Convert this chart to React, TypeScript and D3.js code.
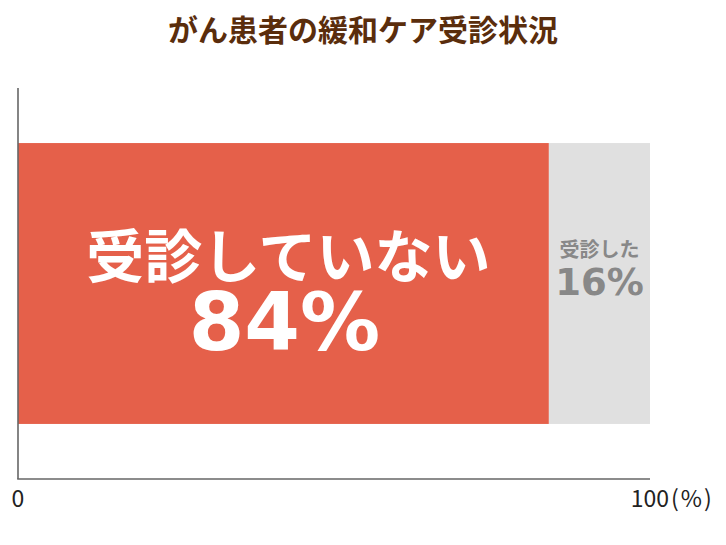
import React from 'react';
import * as d3 from 'd3';

const title = 'がん患者の緩和ケア受診状況';
const categories = ['受診していない', '受診した'];
const values = [84, 16];
const colors = ['#e5604a', '#e0e0e0'];
const tickValues = [0, 100];
const unitLabel = '(%)';

const W = 726;
const H = 545;
const margin = { top: 88, right: 76, bottom: 66, left: 18 };

export default function App() {
  const x = d3.scaleLinear().domain([0, 100]).range([margin.left, W - margin.right]);
  const y = d3.scaleBand().domain(['all']).range([margin.top, H - margin.bottom]).paddingInner(0).paddingOuter(0.196);

  // stack the two shares end to end
  const stacked = values.map((v, i) => {
    const start = d3.sum(values.slice(0, i));
    return { name: categories[i], value: v, x0: start, x1: start + v, color: colors[i] };
  });

  const jp = '"Noto Sans CJK JP", sans-serif';
  const latin = '"DejaVu Sans", "Noto Sans CJK JP", sans-serif';

  const big = stacked[0];
  const small = stacked[1];
  const bigCx = (x(big.x0) + x(big.x1)) / 2 + 5;
  const smallCx = (x(small.x0) + x(small.x1)) / 2;

  return (
    <div style={{ position: 'absolute', left: 0, top: 0 }}>
      <svg width={W} height={H} style={{ display: 'block', background: '#fff' }}>
        <text x={W / 2} y={41} textAnchor="middle" fontFamily={jp} fontWeight={700} fontSize={30} fill="#5a2d0c">
          {title}
        </text>

        {stacked.map(d => (
          <rect key={d.name} x={x(d.x0)} y={y('all')} width={x(d.x1) - x(d.x0)} height={y.bandwidth()} fill={d.color} />
        ))}

        <text x={bigCx} y={278} textAnchor="middle" fontFamily={jp} fontWeight={700} fontSize={58} fill="#fff">
          {big.name}
        </text>
        <text x={bigCx - 4} y={350} textAnchor="middle" fontFamily={latin} fontWeight={700} fontSize={80} fill="#fff">
          {big.value}%
        </text>

        <text x={smallCx} y={257} textAnchor="middle" fontFamily={jp} fontWeight={700} fontSize={20} fill="#888">
          {small.name}
        </text>
        <text x={smallCx} y={295} textAnchor="middle" fontFamily={latin} fontWeight={700} fontSize={37} fill="#888">
          {small.value}%
        </text>

        {/* axes */}
        <line x1={x(0)} x2={x(0)} y1={margin.top} y2={H - margin.bottom} stroke="#666" strokeWidth={1.6} />
        <line x1={x(0) - 0.8} x2={x(100)} y1={H - margin.bottom} y2={H - margin.bottom} stroke="#666" strokeWidth={1.6} />

        {tickValues.map(t => (
          <text key={t} x={x(t)} y={507} textAnchor="middle" fontFamily={jp} fontSize={23} fill="#222">
            {t}
          </text>
        ))}
        <text x={x(100) + 21} y={507} fontFamily={jp} fontSize={23} letterSpacing={2} fill="#222">
          {unitLabel}
        </text>
      </svg>
    </div>
  );
}
